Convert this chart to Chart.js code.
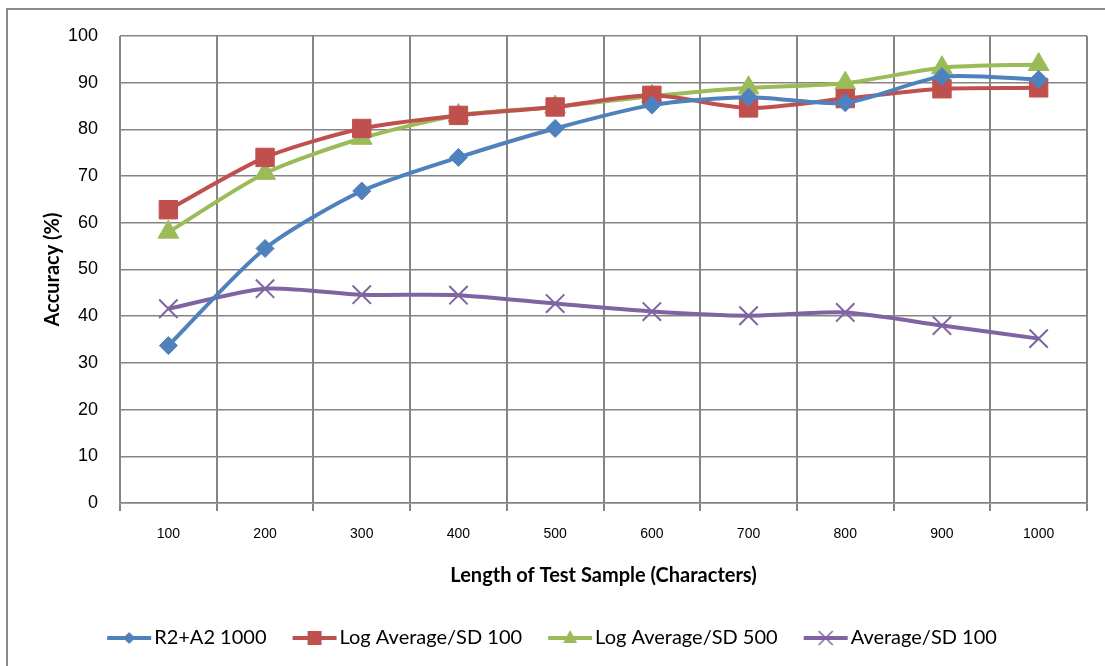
<!DOCTYPE html>
<html>
<head>
<meta charset="utf-8">
<script src="https://cdn.jsdelivr.net/npm/chart.js@4.4.1/dist/chart.umd.min.js"></script>
<style>
    html, body { margin: 0; padding: 0; background: #fff; }
    #wrap { position: relative; width: 1105px; height: 666px; overflow: hidden; }
    #moldura { position: absolute; left: 6px; top: 8px; width: 1200px; height: 800px; border: 2px solid #8a8a8a; }
    canvas { position: absolute; left: 0; top: 0; }
</style>
</head>
<body>
<div id="wrap">
    <div id="moldura"></div>
    <canvas id="grafico" width="1105" height="666"></canvas>
</div>
<script>
// --- Dados ---
const categorias = ['100', '200', '300', '400', '500', '600', '700', '800', '900', '1000'];
const r2a2_1000 = [33.7, 54.5, 66.8, 74.0, 80.2, 85.2, 86.9, 85.7, 91.3, 90.7];
const logAvg100 = [62.8, 74.0, 80.2, 83.0, 84.8, 87.3, 84.6, 86.6, 88.7, 88.9];
const logAvg500 = [58.0, 70.6, 78.1, 83.0, 84.8, 87.1, 88.9, 89.9, 93.2, 93.9];
const avg100 = [41.6, 45.9, 44.6, 44.5, 42.7, 41.0, 40.1, 40.8, 38.0, 35.2];
const nomesSeries = ['R2+A2 1000', 'Log Average/SD 100', 'Log Average/SD 500', 'Average/SD 100'];

const cores = ['#4F81BD', '#C0504D', '#9BBB59', '#8064A2'];
const formas = ['rectRot', 'rect', 'triangle', 'crossRot'];
const raios = [9, 13, 12, 13];

// --- Ícones da legenda (linha + marcador) ---
function iconeLegenda(cor, forma) {
    const c = document.createElement('canvas');
    c.width = 70; c.height = 22;
    const g = c.getContext('2d');
    g.strokeStyle = cor; g.fillStyle = cor; g.lineWidth = 4;
    g.beginPath(); g.moveTo(25, 11); g.lineTo(69, 11); g.stroke();
    const cx = 47, cy = 11;
    g.beginPath();
    if (forma === 'rectRot') {
        g.moveTo(cx, cy - 6); g.lineTo(cx + 6, cy); g.lineTo(cx, cy + 6); g.lineTo(cx - 6, cy); g.closePath(); g.fill();
    } else if (forma === 'rect') {
        g.fillRect(cx - 7, cy - 7, 14, 14);
    } else if (forma === 'triangle') {
        g.moveTo(cx, cy - 8); g.lineTo(cx + 7, cy + 5); g.lineTo(cx - 7, cy + 5); g.closePath(); g.fill();
    } else {
        g.lineWidth = 1.5;
        g.moveTo(cx - 7, cy - 7); g.lineTo(cx + 7, cy + 7);
        g.moveTo(cx + 7, cy - 7); g.lineTo(cx - 7, cy + 7); g.stroke();
    }
    return c;
}
const icones = cores.map((c, i) => iconeLegenda(c, formas[i]));

const valores = [r2a2_1000, logAvg100, logAvg500, avg100];
const datasets = valores.map((v, i) => ({
    label: nomesSeries[i],
    data: v,
    borderColor: cores[i],
    backgroundColor: cores[i],
    borderWidth: 4,
    pointStyle: formas[i],
    pointRadius: raios[i],
    pointBackgroundColor: cores[i],
    pointBorderColor: cores[i],
    pointBorderWidth: formas[i] === 'crossRot' ? 2 : 1,
    tension: 0.25,
    fill: false
}));

const corGrade = '#858585';

new Chart(document.getElementById('grafico').getContext('2d'), {
    type: 'line',
    data: { labels: categorias, datasets: datasets },
    options: {
        responsive: false,
        animation: false,
        layout: { padding: { top: 36, right: 18, left: 0, bottom: 8 } },
        plugins: {
            tooltip: { enabled: false },
            legend: {
                position: 'bottom',
                labels: {
                    usePointStyle: true,
                    pointStyleWidth: 54,
                    padding: 9,
                    color: '#000',
                    font: { family: 'Lato', size: 20 },
                    generateLabels: (chart) => {
                        const itens = Chart.defaults.plugins.legend.labels.generateLabels(chart);
                        itens.forEach((it, i) => { it.pointStyle = icones[i]; });
                        return itens;
                    }
                }
            }
        },
        scales: {
            x: {
                offset: true,
                grid: { offset: true, color: corGrade, lineWidth: 2, tickLength: 8, drawTicks: true },
                border: { color: corGrade, width: 1.5 },
                ticks: { color: '#000', font: { family: 'Liberation Sans', size: 14 }, padding: 15, maxRotation: 0, autoSkip: false },
                title: {
                    display: true, text: 'Length of Test Sample (Characters)', color: '#000',
                    font: { family: 'Lato', size: 20, weight: 'bold' }, padding: { top: 0, bottom: 31 }
                },
                afterFit: (s) => { s.height = 116; }
            },
            y: {
                min: 0, max: 100,
                grid: { color: corGrade, lineWidth: 1.5, drawTicks: false },
                border: { display: false },
                ticks: { stepSize: 10, color: '#000', font: { family: 'Liberation Sans', size: 18 }, padding: 22 },
                title: {
                    display: true, text: 'Accuracy (%)', color: '#000',
                    font: { family: 'Lato', size: 20, weight: 'bold' }, padding: { top: 41, bottom: 0 }
                },
                afterFit: (s) => { s.width = 120; }
            }
        }
    }
});
</script>
</body>
</html>
